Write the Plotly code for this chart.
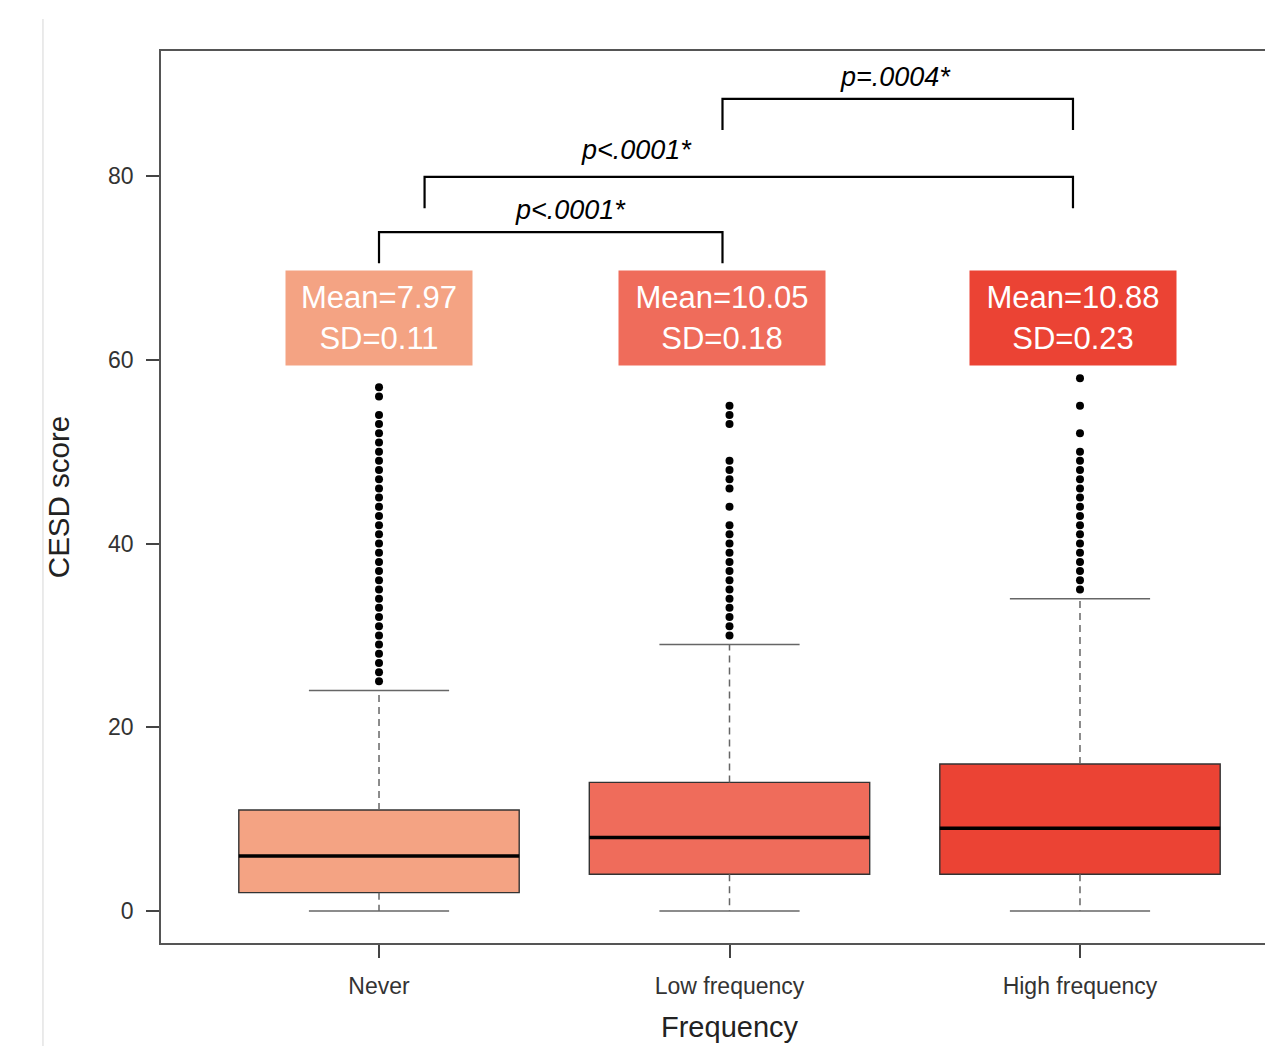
import plotly.graph_objects as go

# ---------------- data ----------------
categories = ["Never", "Low frequency", "High frequency"]
q1 = [2, 4, 4]
medians = [6, 8, 9]
q3 = [11, 14, 16]
lower_whisker = [0, 0, 0]
upper_whisker = [24, 29, 34]

outliers_never = list(range(25, 55)) + [56, 57]
outliers_low = list(range(30, 43)) + [44, 46, 47, 48, 49, 53, 54, 55]
outliers_high = list(range(35, 51)) + [52, 55, 58]
outliers = [outliers_never, outliers_low, outliers_high]

means = [7.97, 10.05, 10.88]
sds = [0.11, 0.18, 0.23]

comparison_labels = ["p<.0001*", "p<.0001*", "p=.0004*"]

# ---------------- styles / layout constants ----------------
colors = ["#F4A383", "#EF6C5B", "#EB4334"]
positions = [1, 2, 3]
box_width = 0.8
cap_half = 0.2
label_x = [1.0, 1.98, 2.98]          # centres of the mean/SD labels
label_y = 64.5
label_w = [186, 206, 206]
label_h = 94
# brackets: (left label index, right label index, left x override, top y, leg bottom y, text x, text y)
brackets = [
    (0, 1, None, 73.9, 70.5, 1.545, 76.3),
    (0, 2, 1.13, 79.9, 76.5, 1.735, 82.8),
    (1, 2, None, 88.4, 85.0, 2.473, 90.8),
]

FONT = "Liberation Sans, Arial, Helvetica, sans-serif"

fig = go.Figure()

# boxes (body only)
for i, cat in enumerate(categories):
    fig.add_trace(go.Box(
        x=[positions[i]], q1=[q1[i]], median=[medians[i]], q3=[q3[i]],
        lowerfence=[q1[i]], upperfence=[q3[i]],
        width=box_width, fillcolor=colors[i],
        line=dict(color="#333333", width=1.4),
        whiskerwidth=0, boxpoints=False, showlegend=False, name=cat,
    ))

for i, cat in enumerate(categories):
    p = positions[i]
    # dashed whiskers
    fig.add_trace(go.Scatter(x=[p, p], y=[q3[i], upper_whisker[i]], mode="lines",
                             line=dict(color="#666666", width=1.5, dash="7px,5px"),
                             showlegend=False, hoverinfo="skip"))
    fig.add_trace(go.Scatter(x=[p, p], y=[q1[i], lower_whisker[i]], mode="lines",
                             line=dict(color="#666666", width=1.5, dash="7px,5px"),
                             showlegend=False, hoverinfo="skip"))
    # caps
    for v in (upper_whisker[i], lower_whisker[i]):
        fig.add_trace(go.Scatter(x=[p - cap_half, p + cap_half], y=[v, v], mode="lines",
                                 line=dict(color="#666666", width=1.5),
                                 showlegend=False, hoverinfo="skip"))
    # median
    fig.add_trace(go.Scatter(x=[p - box_width / 2, p + box_width / 2], y=[medians[i], medians[i]],
                             mode="lines", line=dict(color="#000000", width=3.5),
                             showlegend=False, hoverinfo="skip"))
    # outliers
    fig.add_trace(go.Scatter(x=[p] * len(outliers[i]), y=outliers[i], mode="markers",
                             marker=dict(color="#000000", size=8),
                             showlegend=False, hoverinfo="skip"))

# mean / SD labels
annotations = []
for i in range(len(categories)):
    annotations.append(dict(
        x=label_x[i], y=label_y, xref="x", yref="y",
        text=f"Mean={means[i]:.2f}<br>SD={sds[i]:.2f}",
        showarrow=False, bgcolor=colors[i], width=label_w[i], height=label_h,
        borderpad=0, font=dict(family=FONT, size=31, color="#FFFFFF"),
        align="center", valign="middle",
    ))

# comparison brackets
shapes = []
for k, (a, b, lx, top, leg, tx, ty) in enumerate(brackets):
    x0 = label_x[a] if lx is None else lx
    x1 = label_x[b]
    shapes.append(dict(type="path", xref="x", yref="y",
                       path=f"M {x0},{leg} L {x0},{top} L {x1},{top} L {x1},{leg}",
                       line=dict(color="#000000", width=2.2)))
    annotations.append(dict(x=tx, y=ty, xref="x", yref="y", text=f"<i>{comparison_labels[k]}</i>",
                            showarrow=False, font=dict(family=FONT, size=27, color="#000000")))

# x-axis title, centred under the middle category
annotations.append(dict(x=positions[1], xref="x", y=0, yref="paper", yshift=-84,
                        yanchor="middle", showarrow=False, text="Frequency",
                        font=dict(family=FONT, size=29, color="#222222")))

# page border line seen at the left of the screenshot
shapes.append(dict(type="line", xref="paper", yref="paper",
                   x0=-0.1054, x1=-0.1054, y0=1.036, y1=-0.13,
                   line=dict(color="#DDDDDD", width=1.2)))

fig.update_layout(
    width=1273, height=1046,
    margin=dict(l=153, r=0, t=43, b=111),
    paper_bgcolor="white", plot_bgcolor="white",
    font=dict(family=FONT, color="#333333"),
    shapes=shapes, annotations=annotations,
    xaxis=dict(
        range=[0.378, 3.5735], tickvals=positions, ticktext=categories,
        ticks="outside", ticklen=13, tickwidth=1.5, tickcolor="#444444",
        tickfont=dict(family=FONT, size=23, color="#333333"), ticklabelstandoff=9,
        showline=True, linecolor="#555555", linewidth=1.5, mirror=True,
        showgrid=False, zeroline=False,
    ),
    yaxis=dict(
        range=[-3.483, 93.61], tickvals=[0, 20, 40, 60, 80],
        ticks="outside", ticklen=13, tickwidth=1.5, tickcolor="#444444",
        tickfont=dict(family=FONT, size=23, color="#333333"), ticklabelstandoff=8,
        showline=True, linecolor="#555555", linewidth=1.5, mirror=False,
        showgrid=False, zeroline=False,
        title=dict(text="CESD score", font=dict(family=FONT, size=29.5, color="#222222"), standoff=30),
    ),
)

fig.write_html("out.html")
